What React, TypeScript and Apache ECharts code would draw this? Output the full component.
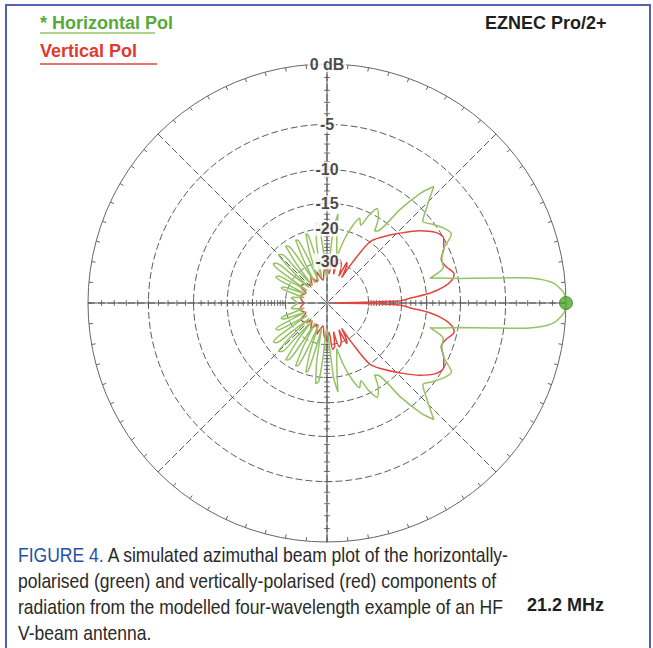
import React, { useEffect, useRef } from 'react';
import * as echarts from 'echarts';

// Ring levels of the ARRL log scale (dB) and their labels on the vertical axis
const ringLevels = [0, -5, -10, -15, -20, -30];
const ringLabels = ['0 dB', '-5', '-10', '-15', '-20', '-30'];
// Small ticks along the axes every 1 dB
const axisTickLevels = [-1, -2, -3, -4, -5, -6, -7, -8, -9, -10, -11, -12, -13, -14, -15, -16, -17, -18, -19, -20, -21, -22, -23, -24, -25, -26, -27, -28, -29, -30];

// Horizontal polarisation, azimuth 0..180 deg (pattern is symmetric about 0 deg)
const horizAngles = [0, 2.5, 5, 6.5, 7.5, 8.7, 10.5, 12.5, 13.5, 15.5, 17, 21, 25, 29, 32.5, 37, 40.5, 44, 47.5, 49.5, 52, 54.5, 56.5, 59, 62, 64.5, 66.5, 69, 72, 75, 78, 80.5, 83, 85, 88, 91, 94, 96, 98, 100, 102, 104, 105.5, 107, 109, 111, 113, 114.5, 116.5, 118.5, 120.5, 122.5, 124, 126, 128, 130, 132, 133, 135, 137, 139, 141, 142, 144, 146, 148, 150, 151, 153, 155, 157, 159, 160, 162, 164, 167, 170, 172, 175, 180];
const horizDb = [0, -0.15, -0.85, -2, -3.6, -6.4, -9.8, -12.5, -14, -12.3, -11.6, -11.4, -10.6, -8.9, -9.3, -10.3, -11, -9.3, -7.1, -8.6, -12, -17, -17.5, -15, -13.8, -15.5, -17.8, -16.6, -18.8, -22.5, -28, -24, -16.8, -20, -34, -38, -26, -19, -18.5, -24, -38, -27, -21, -20.5, -26, -40, -27, -21.5, -21, -27, -40, -27, -21.5, -21, -27, -40, -27, -22, -21.5, -27, -40, -28, -22.5, -22, -28, -40, -29, -25, -24.5, -30, -40, -31, -28, -27.5, -32, -40, -34, -32.5, -34, -36];

// Vertical polarisation, azimuth 0..180 deg
const vertAngles = [0, 1.5, 3.4, 5.5, 8, 10.5, 12.8, 17, 21, 25, 29, 33, 38, 44, 50, 55, 58, 60, 62, 64, 66, 70, 74, 77, 80, 83, 86, 90, 95, 100, 108, 115, 122, 130, 140, 148, 155, 165, 172, 180];
const vertDb = [-60, -20.5, -18, -14.3, -12, -10.8, -10.4, -11.2, -11.5, -10.6, -10, -10.5, -12.2, -14.9, -17.5, -20, -28, -36, -30, -28.5, -36, -30, -28.5, -36, -29, -28, -36, -32, -34, -40, -34, -40, -35, -40, -36, -35, -40, -37, -38, -40];

const captionLines = [
  '{f|FIGURE 4.} A simulated azimuthal beam plot of the horizontally-',
  'polarised (green) and vertically-polarised (red) components of',
  'radiation from the modelled four-wavelength example of an HF',
  'V-beam antenna.',
];

// ARRL log scale: every 2 dB down shrinks the radius by a factor of 0.89
const arrl = (db: number) => Math.pow(0.89, -db / 2);

// Build a closed pattern (upper half mirrored below the axis) as [radius, angle]
const closedPattern = (angles: number[], dbs: number[]) => {
  const pts: number[][] = angles.map((a, i) => [arrl(dbs[i]), a]);
  for (let i = angles.length - 2; i >= 0; i--) {
    pts.push([arrl(dbs[i]), 360 - angles[i]]);
  }
  return pts;
};

const ringPoints = (db: number) => {
  const pts: number[][] = [];
  for (let a = 0; a <= 360; a += 2) pts.push([arrl(db), a]);
  return pts;
};

const GREEN = '#95c364';
const RED = '#e0453e';
const GRID = '#5a5a5a';

export default function App() {
  const ref = useRef<HTMLDivElement>(null);

  useEffect(() => {
    if (!ref.current) return;
    const chart = echarts.init(ref.current, undefined, { renderer: 'svg' });

    const ringSeries = ringLevels.slice(1).map((lvl) => ({
      type: 'line',
      coordinateSystem: 'polar',
      data: ringPoints(lvl),
      symbol: 'none',
      silent: true,
      z: 1,
      lineStyle: { color: GRID, width: 1, type: [7, 3] },
    }));

    const font = '"Liberation Sans", Arial, sans-serif';

    const option: any = {
      animation: false,
      backgroundColor: '#ffffff',
      polar: { center: [327, 303], radius: 239 },
      angleAxis: {
        type: 'value',
        min: 0,
        max: 360,
        interval: 45,
        startAngle: 0,
        clockwise: false,
        axisLine: { show: true, lineStyle: { color: '#666', width: 1 } },
        axisTick: { show: true, inside: true, length: 4, lineStyle: { color: '#666' } },
        minorTick: { show: true, splitNumber: 9, length: 4, lineStyle: { color: '#666' } },
        axisLabel: { show: false },
        splitLine: { show: true, lineStyle: { color: GRID, width: 1, type: [7, 3] } },
      },
      radiusAxis: {
        type: 'value',
        min: 0,
        max: 1,
        axisLine: { show: false },
        axisTick: { show: false },
        axisLabel: { show: false },
        splitLine: { show: false },
      },
      series: [
        ...ringSeries,
        {
          type: 'line',
          coordinateSystem: 'polar',
          data: [[1, 0], [1, 180]],
          symbol: 'none',
          silent: true,
          z: 1,
          lineStyle: { color: '#555', width: 1 },
        },
        {
          type: 'line',
          coordinateSystem: 'polar',
          data: [[1, 90], [1, 270]],
          symbol: 'none',
          silent: true,
          z: 1,
          lineStyle: { color: '#555', width: 1 },
        },
        {
          type: 'scatter',
          coordinateSystem: 'polar',
          symbol: 'rect',
          symbolSize: [1, 6],
          silent: true,
          z: 1,
          itemStyle: { color: '#555' },
          data: axisTickLevels.flatMap((l) => [[arrl(l), 0], [arrl(l), 180]]),
        },
        {
          type: 'scatter',
          coordinateSystem: 'polar',
          symbol: 'rect',
          symbolSize: [6, 1],
          silent: true,
          z: 1,
          itemStyle: { color: '#555' },
          data: axisTickLevels.flatMap((l) => [[arrl(l), 90], [arrl(l), 270]]),
        },
        {
          name: 'Vertical Pol',
          type: 'line',
          coordinateSystem: 'polar',
          data: closedPattern(vertAngles, vertDb),
          symbol: 'none',
          smooth: 0.3,
          z: 3,
          lineStyle: { color: RED, width: 1.5 },
        },
        {
          name: 'Horizontal Pol',
          type: 'line',
          coordinateSystem: 'polar',
          data: closedPattern(horizAngles, horizDb),
          symbol: 'none',
          smooth: 0.25,
          z: 4,
          lineStyle: { color: GREEN, width: 1.5 },
        },
        {
          type: 'scatter',
          coordinateSystem: 'polar',
          data: [[arrl(horizDb[0]), horizAngles[0]]],
          symbolSize: 13,
          z: 6,
          itemStyle: { color: '#4fa82c', borderColor: '#3a8a1e', borderWidth: 1 },
        },
        {
          type: 'scatter',
          coordinateSystem: 'polar',
          data: ringLevels.map((l) => [arrl(l), 90]),
          symbolSize: 1,
          z: 10,
          itemStyle: { color: 'rgba(0,0,0,0)' },
          label: {
            show: true,
            position: 'inside',
            formatter: (p: any) => ringLabels[p.dataIndex],
            color: '#1a1a1a',
            fontSize: 16,
            fontWeight: 'bold',
            fontFamily: font,
            backgroundColor: '#ffffff',
            padding: [0, 2],
          },
        },
      ],
      graphic: [
        {
          type: 'rect',
          shape: { x: 6, y: 5, width: 644, height: 680 },
          style: { fill: 'none', stroke: '#5264b0', lineWidth: 2 },
          silent: true,
        },
        {
          type: 'text',
          x: 40,
          y: 23,
          style: { text: '* Horizontal Pol', fill: '#5aa83a', fontSize: 18, fontWeight: 'bold', fontFamily: font, verticalAlign: 'middle' },
        },
        {
          type: 'line',
          shape: { x1: 40, y1: 33, x2: 155, y2: 33 },
          style: { stroke: GREEN, lineWidth: 1.5 },
        },
        {
          type: 'text',
          x: 40,
          y: 51,
          style: { text: 'Vertical Pol', fill: '#e03a30', fontSize: 18, fontWeight: 'bold', fontFamily: font, verticalAlign: 'middle' },
        },
        {
          type: 'line',
          shape: { x1: 40, y1: 64, x2: 157, y2: 64 },
          style: { stroke: RED, lineWidth: 1.5 },
        },
        {
          type: 'text',
          x: 485,
          y: 23,
          style: { text: 'EZNEC Pro/2+', fill: '#1e1e1e', fontSize: 18, fontWeight: 'bold', fontFamily: font, verticalAlign: 'middle' },
        },
        ...captionLines.map((t, i) => ({
          type: 'text',
          x: 18,
          y: 554 + i * 26,
          scaleX: 0.835,
          style: {
            text: t,
            fill: '#2a2a2a',
            fontSize: 21,
            fontFamily: font,
            verticalAlign: 'middle',
            rich: {
              f: { fill: '#2452a6', fontSize: 21, fontFamily: font },
            },
          },
        })),
        {
          type: 'text',
          x: 527,
          y: 605,
          style: { text: '21.2 MHz', fill: '#1e1e1e', fontSize: 18, fontWeight: 'bold', fontFamily: font, verticalAlign: 'middle' },
        },
      ],
    };

    chart.setOption(option);
    return () => chart.dispose();
  }, []);

  return (
    <div
      ref={ref}
      style={{ position: 'absolute', left: 0, top: 0, width: 653, height: 648, background: '#fff' }}
    />
  );
}
